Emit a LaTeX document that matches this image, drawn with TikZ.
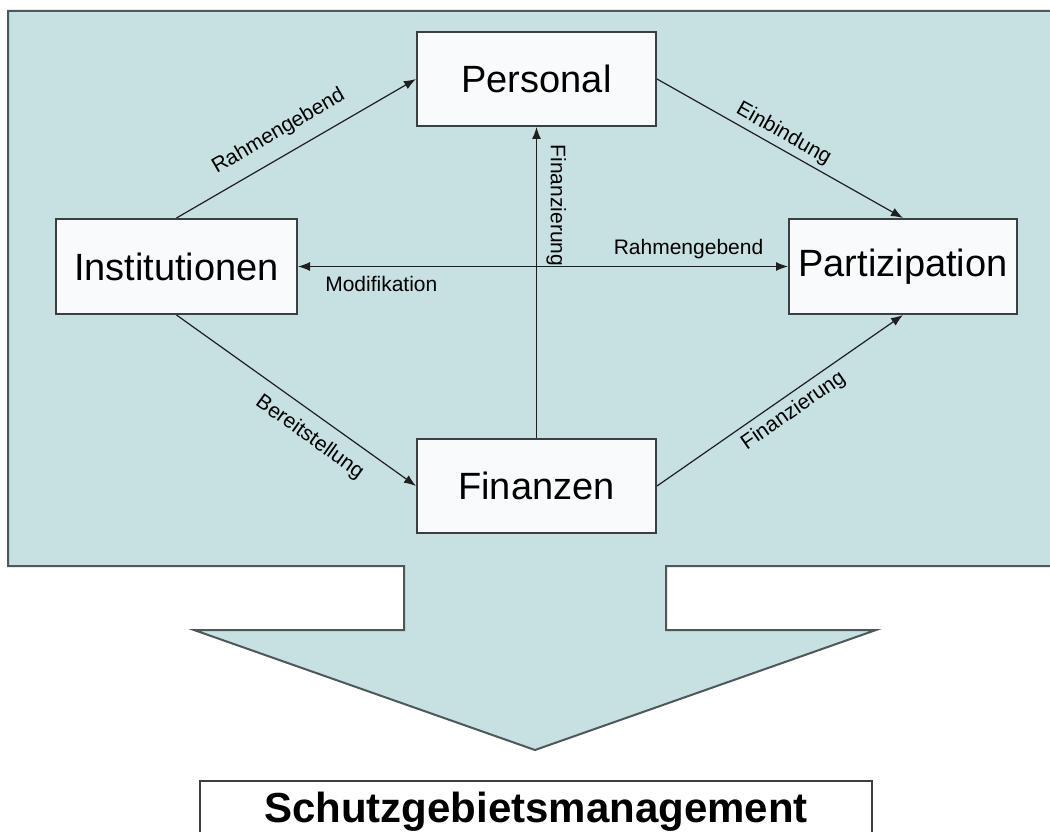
\documentclass[tikz,border=0pt]{standalone}
\usepackage{fontspec}
\setmainfont{Liberation Sans}
\usetikzlibrary{arrows.meta}
\definecolor{areaFill}{RGB}{199,224,225}
\definecolor{areaLine}{RGB}{78,88,90}
\definecolor{boxFill}{RGB}{248,250,252}
\definecolor{boxLine}{RGB}{58,64,66}
\newcommand\colorArea{areaFill}
\newcommand\colorAreaLine{areaLine}
\newcommand\colorBox{boxFill}
\newcommand\colorBoxLine{boxLine}
\newcommand\colorFlow{black!88}
\newcommand\boxFont{\fontsize{38}{44}\selectfont}
\newcommand\flowFont{\fontsize{21}{25}\selectfont}
\newcommand\mgmtFont{\fontsize{42}{48}\selectfont\bfseries}
\tikzset{
	>={Latex[length=12pt,width=9pt]},
	factor/.style={draw=\colorBoxLine, line width=2pt, fill=\colorBox, font=\boxFont,
		minimum width=239pt, minimum height=94pt, inner sep=0pt},
	flow/.style={draw=\colorFlow, line width=1.2pt},
	flowlabel/.style={font=\flowFont, inner sep=0pt},
	mgmt/.style={draw=\colorBoxLine, line width=1.6pt, fill=white, font=\mgmtFont,
		minimum width=672pt, minimum height=62pt, inner sep=0pt},
}

\begin{document}
\begin{tikzpicture}[x=1pt, y=-1pt]
		\useasboundingbox[fill=white] (0,0) rectangle (1050,832);
		\clip (0,0) rectangle (1050,832);
		
		% panel and the big arrow below it, one outline
		\draw[fill=\colorArea, draw=\colorAreaLine, line width=2pt]
			(8,11) to (1060,11) to (1060,566) to
			(666,566) to (666,630) to (876,630) to
			(535,750) to
			(194,630) to (404,630) to (404,566) to
			(8,566) to cycle;
		
		\node[factor] (pers) at (536.5,79) {Personal};
		\node[factor, minimum width=241pt, minimum height=95pt] (inst) at (176.5,266.5) {Institutionen};
		\node[factor, minimum width=228pt, minimum height=95pt] (part) at (903,266.5) {Partizipation};
		\node[factor] (fin) at (536.5,486) {Finanzen};
		
		\draw[flow, ->] (inst.north) to
			node[flowlabel, sloped, above=13pt, pos=0.476] {Rahmengebend} (pers.west);
		\draw[flow, ->] (pers.east) to
			node[flowlabel, sloped, above=4pt, pos=0.486] {Einbindung} (part.north);
		\draw[flow, ->] (inst.south) to
			node[flowlabel, sloped, below=12pt, pos=0.61] {Bereitstellung} (fin.west);
		\draw[flow, ->] (fin.east) to
			node[flowlabel, sloped, below=6pt, pos=0.517] {Finanzierung} (part.south);
		\draw[flow, <-] (pers.south) to
			node[flowlabel, sloped, above=9.5pt, pos=0.252] {Finanzierung} (fin.north);
		\draw[flow, <->] (inst.east) to
			node[flowlabel, above=6.6pt, pos=0.797] {Rahmengebend}
			node[flowlabel, below=9pt, pos=0.17] {Modifikation} (part.west);
		
		\node[mgmt] (result) at (536,812) {Schutzgebietsmanagement};
	\end{tikzpicture}
\end{document}
